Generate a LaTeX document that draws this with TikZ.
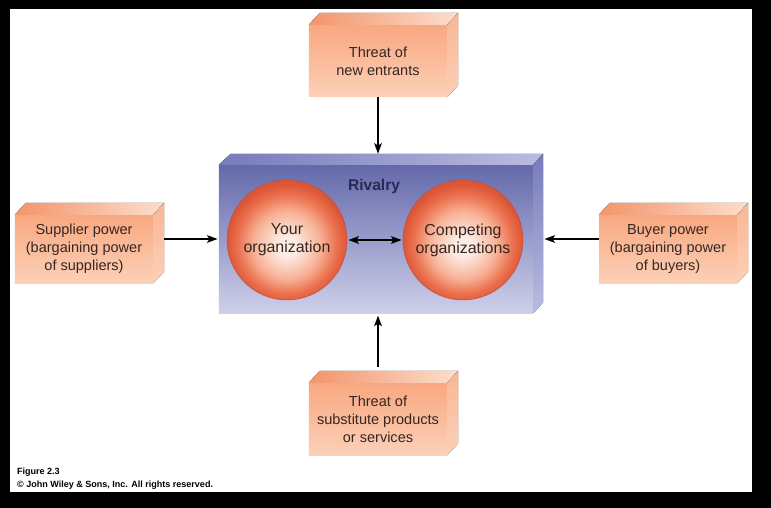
\documentclass[tikz,border=0pt]{standalone}
\usepackage{fontspec}
\setmainfont{Liberation Sans}
\usepackage{tikz}
\usetikzlibrary{arrows.meta,calc}
\definecolor{peachtop}{RGB}{248,168,128}
\definecolor{peachbot}{RGB}{252,208,184}
\definecolor{peachdark}{RGB}{243,148,106}
\definecolor{peachlight}{RGB}{252,222,204}
\definecolor{peachside}{RGB}{249,182,146}
\definecolor{rivtop}{RGB}{100,105,170}
\definecolor{rivbot}{RGB}{206,208,234}
\definecolor{rivlid}{RGB}{118,123,186}
\definecolor{rivlidlight}{RGB}{186,188,224}
\definecolor{rivnavy}{RGB}{38,42,86}
\definecolor{txtdark}{RGB}{52,38,34}
\definecolor{ballcore}{RGB}{253,236,228}
\definecolor{ballmid}{RGB}{247,178,150}
\definecolor{ballout}{RGB}{236,114,80}
\definecolor{ballrim}{RGB}{220,86,54}
\pgfdeclareradialshading{orgball}{\pgfpoint{0bp}{-3bp}}{%
  color(0bp)=(ballcore); color(4bp)=(ballcore);
  color(14bp)=(ballmid); color(20.5bp)=(ballout);
  color(25bp)=(ballrim); color(50bp)=(ballrim)}

\begin{document}
\begin{tikzpicture}[x=0.03cm, y=-0.03cm,
      force/.style={rectangle, top color=peachtop, bottom color=peachbot,
                    text=txtdark, align=center, minimum width=4.14cm,
                    minimum height=2.16cm, inner sep=0pt,
                    font=\fontsize{12.4}{15.2}\selectfont},
      orgball/.style={circle, shading=orgball, draw=ballrim!85!black,
                      line width=0.3pt, minimum size=3.6cm, text=txtdark,
                      align=center, font=\fontsize{13.6}{15.4}\selectfont},
      arr/.style={-{Stealth[length=9pt, width=6.5pt, inset=2pt]},
                  line width=1.5pt, black},
      arr2/.style={{Stealth[length=9pt, width=6.5pt, inset=2pt]}-{Stealth[length=9pt, width=6.5pt, inset=2pt]},
                  line width=1.5pt, black}]
    % frame
    \fill[black] (0,0) rectangle (771,508);
    \fill[white] (10,9) rectangle (752,492);

    % rivalry block
    \node[rectangle, top color=rivtop, bottom color=rivbot,
          minimum width=9.42cm, minimum height=4.44cm] (riv) at (376,239) {};
    \fill[left color=rivlid, right color=rivlidlight]
      (riv.north west) -- ++(12,-11) -- ($(riv.north east)+(10,-11)$)
      -- (riv.north east) -- cycle;
    \fill[top color=rivlid, bottom color=rivlidlight]
      (riv.north east) -- ++(10,-11) -- ($(riv.south east)+(10,-11)$)
      -- (riv.south east) -- cycle;
    \coordinate (rivback) at ($(riv.north)+(11,-11)$);
    \coordinate (rivside) at ($(riv.east)+(10,0)$);
    \node[text=rivnavy, font=\fontsize{13.3}{15}\selectfont\bfseries]
      (rivalry) at (374,186) {Rivalry};

    \node[orgball] (yours) at (287,240) {Your\\organization};
    \node[orgball] (others) at (463,240) {Competing\\organizations};

    % the four forces
    \node[force] (entrants) at (378,61) {Threat of\\new entrants};
    \node[force, minimum height=2.04cm] (supplier) at (84,249)
      {Supplier power\\(bargaining power\\of suppliers)};
    \node[force, minimum height=2.04cm] (buyer) at (668,249)
      {Buyer power\\(bargaining power\\of buyers)};
    \node[force] (subst) at (378,419)
      {Threat of\\substitute products\\or services};

    \foreach \n in {entrants, supplier, buyer, subst} {
      \fill[left color=peachdark, right color=peachlight]
        (\n.north west) -- ++(11,-12) -- ($(\n.north east)+(11,-12)$)
        -- (\n.north east) -- cycle;
      \fill[top color=peachside, bottom color=peachbot]
        (\n.north east) -- ++(11,-12) -- ($(\n.south east)+(11,-12)$)
        -- (\n.south east) -- cycle;
    }
    \coordinate (substback) at ($(subst.north)+(0,-12)$);
    \coordinate (supside) at ($(supplier.east)+(11,0)$);

    \draw[arr] (entrants.south) -- (entrants.south |- rivback);
    \draw[arr, shorten <=3pt, shorten >=2pt]
      (substback) -- (substback |- riv.south);
    \draw[arr, shorten >=1pt] (supside |- riv.west) -- (riv.west);
    \draw[arr, shorten >=1pt] (buyer.west |- riv.east) -- (rivside);
    \draw[arr2, shorten <=1pt, shorten >=1pt] (yours.east) -- (others.west);

    % credit line
    \node[anchor=west, font=\fontsize{7.7}{9}\selectfont\bfseries]
      (fig) at (13,472) {Figure 2.3};
    \node[anchor=west, font=\fontsize{7.7}{9}\selectfont\bfseries]
      (credit) at (13,485) {© John Wiley \& Sons, Inc. All rights reserved.};
  \end{tikzpicture}
\end{document}
